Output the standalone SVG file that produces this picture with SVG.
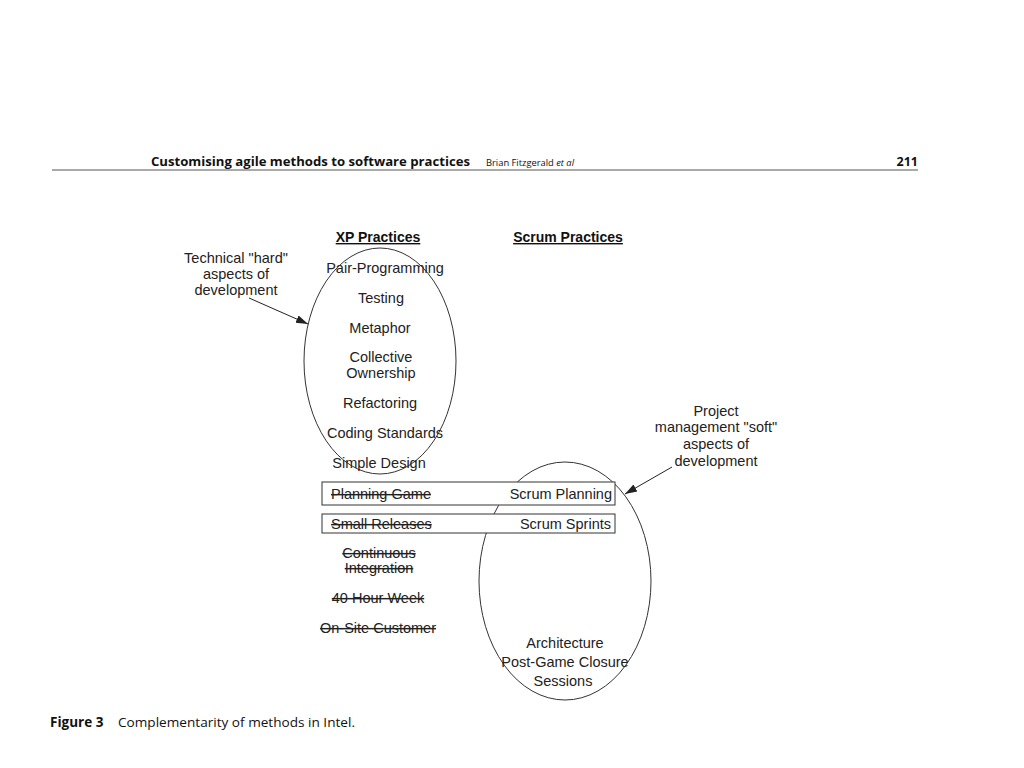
<svg xmlns="http://www.w3.org/2000/svg" width="1024" height="768" viewBox="0 0 1024 768">
<style>
.t{font-family:"Liberation Sans",Arial,sans-serif;font-size:14.5px;fill:#222;text-anchor:middle}
.h{font-family:"Liberation Sans",Arial,sans-serif;font-size:14px;font-weight:bold;fill:#111;text-anchor:middle;text-decoration:underline}
.s{text-decoration:line-through}
.ol{fill:none;stroke:#333;stroke-width:1}
.box{fill:#fff;stroke:#333;stroke-width:1}
.hd{font-family:"Open Sans","Liberation Sans",sans-serif;fill:#111}
</style>
<defs>
<marker id="ah" viewBox="0 0 12 10" refX="12" refY="5" markerWidth="12" markerHeight="10" orient="auto" markerUnits="userSpaceOnUse">
<path d="M0,1 L12,5 L0,9 z" fill="#222"/>
</marker>
</defs>
<rect width="1024" height="768" fill="#fff"/>
<g id="header">
<line x1="52" y1="170" x2="918" y2="170" stroke="#555" stroke-width="1"/>
<text class="hd" x="151" y="166" font-size="12" font-weight="bold" textLength="319" lengthAdjust="spacingAndGlyphs">Customising agile methods to software practices</text>
<text class="hd" x="486" y="166" font-size="9.5" textLength="88" lengthAdjust="spacingAndGlyphs">Brian Fitzgerald <tspan font-style="italic">et al</tspan></text>
<text class="hd" x="918" y="166" font-size="12.5" font-weight="bold" text-anchor="end">211</text>
</g>
<g id="xp">
<ellipse class="ol" cx="380" cy="361" rx="76" ry="113"/>
<text class="h" x="378" y="242">XP Practices</text>
<text class="t" x="385" y="273">Pair-Programming</text>
<text class="t" x="381" y="303">Testing</text>
<text class="t" x="380" y="333">Metaphor</text>
<text class="t" x="381" y="362">Collective</text>
<text class="t" x="381" y="378">Ownership</text>
<text class="t" x="380" y="408">Refactoring</text>
<text class="t" x="385" y="438">Coding Standards</text>
<text class="t" x="379" y="468">Simple Design</text>
</g>
<g id="scrum">
<ellipse class="ol" cx="565" cy="581" rx="86" ry="119"/>
<text class="h" x="568" y="242">Scrum  Practices</text>
<text class="t" x="565" y="648">Architecture</text>
<text class="t" x="565" y="667">Post-Game Closure</text>
<text class="t" x="563" y="686">Sessions</text>
</g>
<g id="planning">
<rect class="box" x="322" y="482" width="293" height="23"/>
<text class="t s" x="331" y="499" style="text-anchor:start">Planning Game</text>
<text class="t" x="612" y="499" style="text-anchor:end">Scrum Planning</text>
</g>
<g id="sprints">
<rect class="box" x="322" y="514" width="293" height="19"/>
<text class="t s" x="331" y="529" style="text-anchor:start">Small Releases</text>
<text class="t" x="611" y="529" style="text-anchor:end">Scrum Sprints</text>
</g>
<g id="dropped">
<text class="t s" x="379" y="558">Continuous</text>
<text class="t s" x="379" y="573">Integration</text>
<text class="t s" x="378" y="603">40 Hour Week</text>
<text class="t s" x="378" y="633">On-Site Customer</text>
</g>
<g id="hard-label">
<text class="t" x="236" y="263">Technical "hard"</text>
<text class="t" x="236" y="279">aspects of</text>
<text class="t" x="236" y="295">development</text>
</g>
<g id="soft-label">
<text class="t" x="716" y="416">Project</text>
<text class="t" x="716" y="432">management "soft"</text>
<text class="t" x="716" y="449">aspects of</text>
<text class="t" x="716" y="466">development</text>
</g>
<g id="connectors">
<line x1="249" y1="298" x2="308" y2="324" stroke="#222" stroke-width="1" marker-end="url(#ah)"/>
<line x1="672" y1="467" x2="625" y2="494" stroke="#222" stroke-width="1" marker-end="url(#ah)"/>
</g>
<g id="caption">
<text class="hd" x="50" y="727" font-size="13.5" font-weight="bold">Figure 3</text>
<text class="hd" x="118" y="727" font-size="13.5" textLength="237" lengthAdjust="spacingAndGlyphs">Complementarity of methods in Intel.</text>
</g>
</svg>
